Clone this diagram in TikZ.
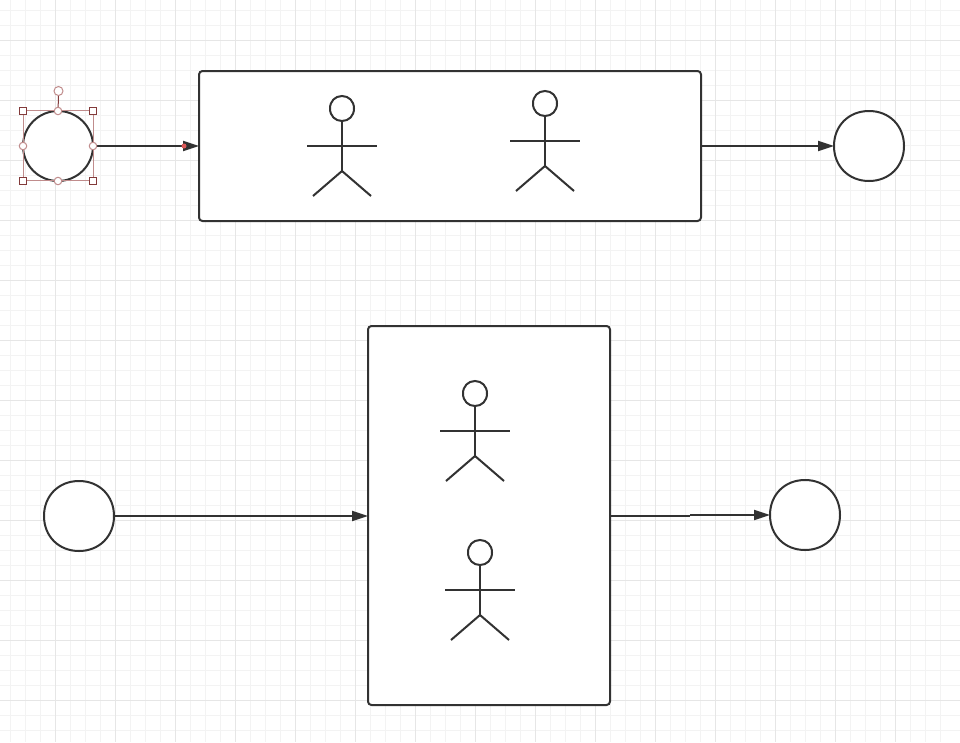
\documentclass[tikz,border=0pt]{standalone}
\usetikzlibrary{arrows.meta,shapes.geometric}
\definecolor{gridminor}{HTML}{F3F3F3}
\definecolor{gridmajor}{HTML}{E6E6E6}
\definecolor{ink}{HTML}{323232}
\definecolor{handle}{HTML}{833B3B}
\definecolor{handlesoft}{HTML}{C08C8C}
\definecolor{reddot}{HTML}{DF5A5A}
% outline slightly fuller than a true ellipse, through the four anchors of a named node
\newcommand{\softoutline}[3]{%
  \draw[draw=ink,line width=2pt,fill=white]
    (#1.east) .. controls +(0,-#3*0.58) and +(#2*0.58,0) .. (#1.north)
    .. controls +(-#2*0.58,0) and +(0,-#3*0.58) .. (#1.west)
    .. controls +(0,#3*0.58) and +(-#2*0.58,0) .. (#1.south)
    .. controls +(#2*0.58,0) and +(0,#3*0.58) .. (#1.east) -- cycle;}
\tikzset{
  x=1pt,y=-1pt,
  shapeline/.style={draw=ink,line width=2pt,fill=white,inner sep=0pt,outer sep=0pt},
  roundbox/.style={shapeline,rectangle,rounded corners=3.5pt},
  stateball/.style={shapeline,circle,minimum size=70pt},
  softball/.style={circle,inner sep=0pt,outer sep=0pt,minimum size=70pt},
  headball/.style={ellipse,inner sep=0pt,outer sep=0pt,minimum width=24pt,minimum height=25pt},
  limb/.style={draw=ink,line width=2pt},
  flow/.style={draw=ink,line width=2pt,-{Triangle[length=16pt,width=10pt]}},
  cornerhandle/.style={draw=handle,line width=1pt,fill=white,rectangle,minimum size=7.5pt,inner sep=0pt},
  sidehandle/.style={draw=handlesoft,line width=1pt,fill=white,circle,minimum size=7.5pt,inner sep=0pt},
  selframe/.style={draw=handlesoft,line width=1pt},
  pics/stickman/.style={code={
    \node[headball] (-head) at (0,-37.5) {};
    \softoutline{-head}{12}{12.5}
    \coordinate (-hip) at (0,25);
    \coordinate (-armL) at (-35,0);
    \coordinate (-armR) at (35,0);
    \coordinate (-legL) at (-29,50);
    \coordinate (-legR) at (29,50);
    \draw[limb] (-head.south) -- (-hip);
    \draw[limb] (-armL) -- (-armR);
    \draw[limb] (-legL) -- (-hip) -- (-legR);
  }}
}
\begin{document}
\begin{tikzpicture}
\useasboundingbox (0,0) rectangle (960,742);
\fill[white] (0,0) rectangle (960,742);
% grid
\foreach \gx in {10.5,25.5,...,955} {\draw[gridminor,line width=1pt] (\gx,0) -- (\gx,742);}
\foreach \gy in {10.5,25.5,...,740} {\draw[gridminor,line width=1pt] (0,\gy) -- (960,\gy);}
\foreach \gx in {55.5,115.5,...,955} {\draw[gridmajor,line width=1pt] (\gx,0) -- (\gx,742);}
\foreach \gy in {40.5,100.5,...,740} {\draw[gridmajor,line width=1pt] (0,\gy) -- (960,\gy);}

% top row
\node[stateball] (startA) at (58,146) {};
\node[roundbox,minimum width=502pt,minimum height=150pt] (boxA) at (450,146) {};
\node[softball] (endA) at (869,146) {};
\softoutline{endA}{35}{35}
\draw[flow] (startA.east) -- (boxA.west);
\draw[flow] (boxA.east) -- (endA.west);
\pic (manA) at (342,146) {stickman};
\pic (manB) at (545,141) {stickman};

% bottom row
\node[softball] (startB) at (79,516) {};
\softoutline{startB}{35}{35}
\node[roundbox,minimum width=242pt,minimum height=379pt] (boxB) at (489,515.5) {};
\node[softball] (endB) at (805,515) {};
\softoutline{endB}{35}{35}
\draw[flow] (startB.east) -- (boxB.west |- startB.east);
\coordinate (bend) at (690,515.7);
\draw[draw=ink,line width=2pt] (boxB.east |- bend) -- (bend);
\draw[flow] (bend |- endB.west) -- (endB.west);
\pic (manC) at (475,431) {stickman};
\pic (manD) at (480,590) {stickman};

% selection decoration
\draw[selframe] (23,110.5) rectangle (93,180.5);
\node[sidehandle,minimum size=9pt] (rotH) at (58.5,91) {};
\draw[draw=handle,line width=1pt] (rotH.south) -- (startA.north);
\foreach \n/\px/\py in {hA/23/111,hB/93/111,hC/23/181,hD/93/181}
  \node[cornerhandle] (\n) at (\px,\py) {};
\foreach \n/\px/\py in {sA/58/111,sB/93/146,sC/58/181,sD/23/146}
  \node[sidehandle] (\n) at (\px,\py) {};
\node[circle,fill=reddot,minimum size=5pt,inner sep=0pt] (dropdot) at (184,146) {};
\end{tikzpicture}
\end{document}
